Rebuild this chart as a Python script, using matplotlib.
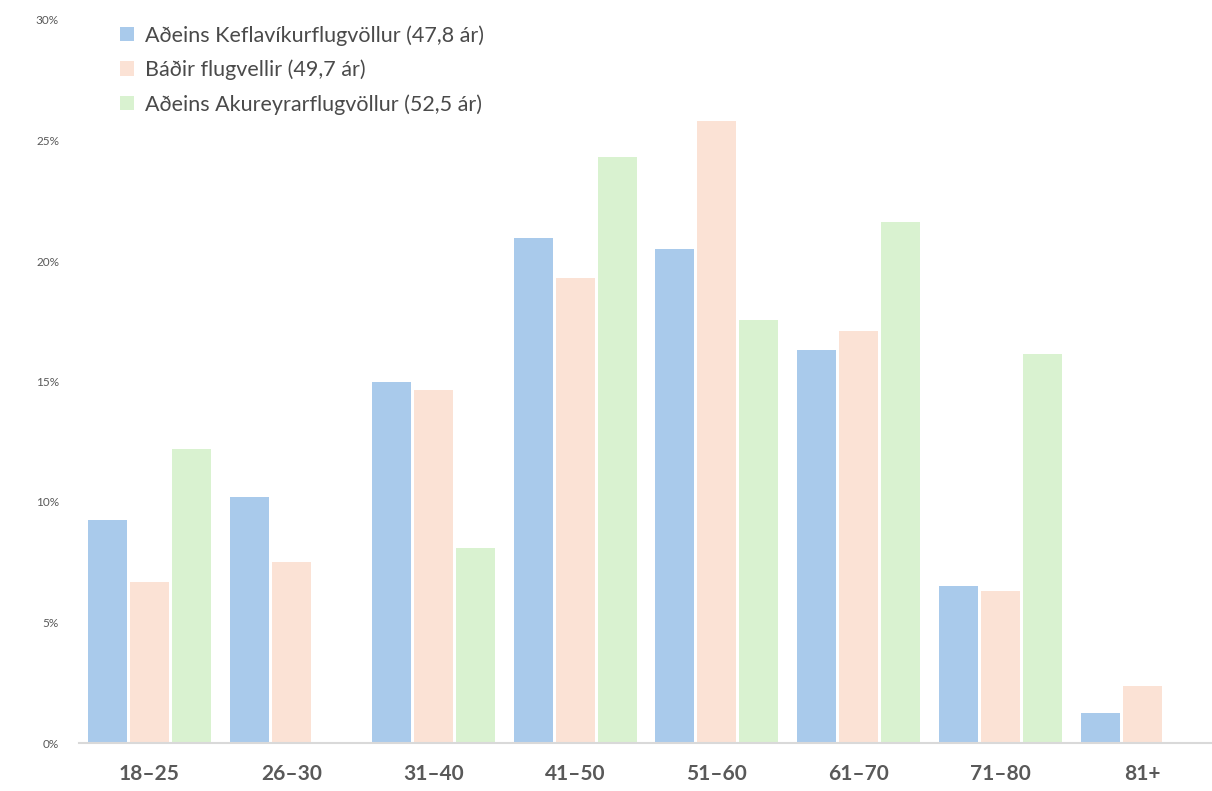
import numpy as np
import matplotlib
matplotlib.use('Agg')
import matplotlib.pyplot as plt
from matplotlib.ticker import FuncFormatter

plt.rcParams['font.family'] = ['Lato', 'DejaVu Sans']

categories = ['18–25', '26–30', '31–40', '41–50', '51–60', '61–70', '71–80', '81+']
kef = [9.25, 10.2, 15.0, 20.95, 20.5, 16.3, 6.5, 1.25]
badir = [6.7, 7.5, 14.65, 19.3, 25.8, 17.1, 6.3, 2.35]
aku = [12.2, 0.0, 8.1, 24.3, 17.55, 21.6, 16.15, 0.0]
series_names = ['Aðeins Keflavíkurflugvöllur (47,8 ár)',
                'Báðir flugvellir (49,7 ár)',
                'Aðeins Akureyrarflugvöllur (52,5 ár)']
colors = ['#A9CAEB', '#FBE2D5', '#D9F2D0']

fig = plt.figure(figsize=(12.12, 7.91), dpi=100)
ax = fig.add_axes([78.5 / 1212, 1 - 743 / 791, 1135 / 1212, 723 / 791])

x = np.arange(len(categories))
w = 0.275
for i, (vals, name, c) in enumerate(zip([kef, badir, aku], series_names, colors)):
    vals = np.array(vals)
    mask = vals > 0
    ax.bar(x[mask] + (i - 1) * 0.296, vals[mask], width=w, color=c, label=name)

ax.set_xlim(-0.5, len(categories) - 0.5)
ax.set_ylim(0, 30)
ax.set_yticks(np.arange(0, 31, 5))
ax.yaxis.set_major_formatter(FuncFormatter(lambda v, p: f'{int(v)}%'))
ax.set_xticks(x)
ax.set_xticklabels(categories, fontsize=15, fontweight='bold', color='#595959')
ax.tick_params(axis='x', length=0, pad=15)
ax.tick_params(axis='y', length=0, pad=14, labelsize=8.5, labelcolor='#595959')
for s in ['top', 'right', 'left']:
    ax.spines[s].set_visible(False)
ax.spines['bottom'].set_color('#D9D9D9')
ax.spines['bottom'].set_linewidth(1.5)

handles, labels = ax.get_legend_handles_labels()
fig.legend(handles, labels, loc='upper left', bbox_to_anchor=(120 / 1212, 1 - 25 / 791),
           frameon=False, borderpad=0, borderaxespad=0,
           fontsize=15.5, handlelength=0.65, handleheight=0.65, handletextpad=0.5,
           labelspacing=0.65, labelcolor='#4a4a4a')

fig.savefig('out.png', dpi=100)
